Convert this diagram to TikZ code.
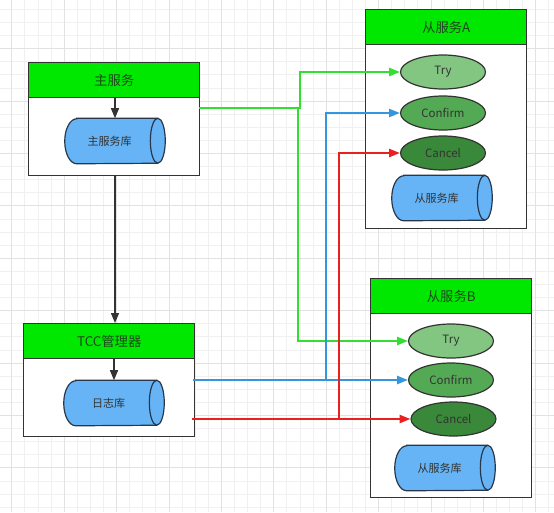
\documentclass[tikz,border=0pt]{standalone}
\usepackage{fontspec}
\setmainfont{Noto Sans CJK SC}
\usetikzlibrary{shapes.geometric,arrows.meta}
\definecolor{hdrgreen}{RGB}{0,232,0}
\definecolor{hdrtext}{RGB}{30,72,30}
\definecolor{trygreen}{RGB}{130,198,130}
\definecolor{confgreen}{RGB}{84,170,84}
\definecolor{cancgreen}{RGB}{58,136,58}
\definecolor{cylblue}{RGB}{102,180,245}
\definecolor{cylline}{RGB}{40,55,75}
\definecolor{boxline}{RGB}{51,51,51}
\definecolor{lgreen}{RGB}{50,222,50}
\definecolor{lblue}{RGB}{52,150,220}
\definecolor{lred}{RGB}{232,32,32}
\definecolor{gridminor}{RGB}{240,240,240}
\definecolor{gridmajor}{RGB}{226,226,226}
\newcommand\dbcyl[4]{%
  \node[dbframe] (#1) at (#2,#3) {};
  \draw[dbline] ([xshift=9pt]#1.north west) -- ([xshift=-5.6pt]#1.north east)
     arc[start angle=90,end angle=-90,x radius=5.6pt,y radius=16.875pt]
     -- ([xshift=9pt]#1.south west)
     arc[start angle=270,end angle=90,x radius=9pt,y radius=16.875pt] -- cycle;
  \draw[dbline,fill=none] ([xshift=-5.6pt]#1.north east)
     arc[start angle=90,end angle=270,x radius=5.6pt,y radius=16.875pt];
  \node[dbtext] (#1-t) at ([xshift=-4pt]#1.center) {#4};
}
\begin{document}
\begin{tikzpicture}[x=0.75pt,y=-0.75pt,
  outerbox/.style={draw=boxline,line width=1.1pt,fill=white,anchor=north west,inner sep=0pt,minimum width={161*0.75pt},minimum height={219*0.75pt}},
  hdr/.style={draw=boxline,line width=1.1pt,fill=hdrgreen,anchor=north west,inner sep=0pt,minimum height={35*0.75pt},text=hdrtext,font=\fontsize{10pt}{12pt}\selectfont},
  dbframe/.style={rectangle,inner sep=0pt,minimum width={100*0.75pt},minimum height={45*0.75pt}},
  dbline/.style={draw=cylline,line width=0.9pt,fill=cylblue},
  dbtext/.style={inner sep=0pt,text=boxline,font=\fontsize{8.3pt}{10pt}\selectfont},
  op/.style={ellipse,draw=boxline,line width=0.9pt,minimum width={85*0.75pt},minimum height={34*0.75pt},inner sep=0pt,text=boxline,font=\fontsize{8.6pt}{10pt}\selectfont},
  blk/.style={draw=boxline,line width=1pt,-{Triangle[length=7.5pt,width=6pt]}},
  wire/.style={line width=1.4pt,-{Triangle[length=8pt,width=6pt]}}
]
\useasboundingbox (0,0) rectangle (554,512);
\fill[white] (0,0) rectangle (554,512);
% grid
\foreach \i in {0,...,42} {
  \pgfmathsetmacro\gx{11.7+13.1*\i}
  \draw[gridminor,line width=0.6pt] (\gx,0) -- (\gx,512);
}
\foreach \i in {0,...,39} {
  \pgfmathsetmacro\gy{9.3+13.1*\i}
  \draw[gridminor,line width=0.6pt] (0,\gy) -- (554,\gy);
}
\foreach \i in {0,...,10} {
  \pgfmathsetmacro\gx{11.7+52.4*\i}
  \draw[gridmajor,line width=0.6pt] (\gx,0) -- (\gx,512);
}
\foreach \i in {0,...,9} {
  \pgfmathsetmacro\gy{48.6+52.4*\i}
  \draw[gridmajor,line width=0.6pt] (0,\gy) -- (554,\gy);
}
% main service
\node[outerbox,minimum width={171*0.75pt},minimum height={113*0.75pt}] (mainbox) at (28,62) {};
\node[hdr,minimum width={171*0.75pt}] (mainhdr) at (28,62) {主服务};
\dbcyl{maindb}{115}{141}{主服务库}
% TCC
\node[outerbox,minimum width={171*0.75pt},minimum height={113*0.75pt}] (tccbox) at (23,323) {};
\node[hdr,minimum width={171*0.75pt}] (tcchdr) at (23,323) {TCC管理器};
\dbcyl{logdb}{114}{403}{日志库}
% service A
\node[outerbox] (abox) at (365,9) {};
\node[hdr,minimum width={161*0.75pt}] (ahdr) at (365,9) {从服务A};
\node[op,fill=trygreen] (tryA) at (443,72) {Try};
\node[op,fill=confgreen] (confA) at (443,113) {Confirm};
\node[op,fill=cancgreen] (cancA) at (443,153) {Cancel};
\dbcyl{adb}{442}{198}{从服务库}
% service B
\node[outerbox] (bbox) at (370,278) {};
\node[hdr,minimum width={161*0.75pt}] (bhdr) at (370,278) {从服务B};
\node[op,fill=trygreen] (tryB) at (451,341) {Try};
\node[op,fill=confgreen] (confB) at (451,380) {Confirm};
\node[op,fill=cancgreen] (cancB) at (453.5,419) {Cancel};
\dbcyl{bdb}{445}{468}{从服务库}
% black arrows
\draw[blk] (maindb.north |- mainhdr.south) -- (maindb.north);
\draw[blk] (maindb.north |- mainbox.south) -- (maindb.north |- tcchdr.north);
\draw[blk] (logdb.north |- tcchdr.south) -- (logdb.north);
% coordinates
\coordinate (gs) at (199,108);
\coordinate (gj) at (300,108);
\coordinate (gd) at (298,108);
\coordinate (bs) at (193,380);
\coordinate (bj) at (326,380);
\coordinate (rs) at (192,419);
\coordinate (rj) at (339,419);
% green
\draw[wire,lgreen] (gs) -- (gj) |- (tryA.west);
\draw[wire,lgreen] (gd) |- (tryB.west);
% blue
\draw[wire,lblue] (bs) -- (confB.west);
\draw[wire,lblue] (bj) |- (confA.west);
% red
\draw[wire,lred] (rs) -- (cancB.west);
\draw[wire,lred] (rj) |- (cancA.west);
\end{tikzpicture}
\end{document}
